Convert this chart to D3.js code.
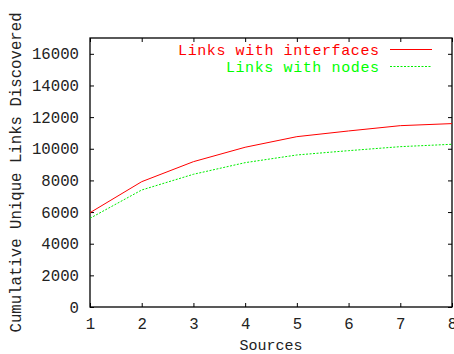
<!DOCTYPE html>
<html>
<head>
<meta charset="utf-8">
<script src="https://cdn.jsdelivr.net/npm/d3@7/dist/d3.min.js"></script>
<style>
  html, body { margin: 0; padding: 0; background: #fff; }
  svg { display: block; }
  text { font-family: "Liberation Mono", "Courier New", monospace; }
</style>
</head>
<body>
<script>
// Cumulative unique links discovered as sources are added
const sources = [1, 2, 3, 4, 5, 6, 7, 8];
const linksWithInterfaces = [5960, 7920, 9185, 10095, 10765, 11125, 11460, 11590];
const linksWithNodes = [5607, 7395, 8388, 9122, 9608, 9880, 10133, 10284];
const yTicks = [0, 2000, 4000, 6000, 8000, 10000, 12000, 14000, 16000];
const xTicks = [1, 2, 3, 4, 5, 6, 7, 8];
const seriesNames = ["Links with interfaces", "Links with nodes"];

const W = 454, H = 354;
const m = { left: 90, right: 2, top: 38, bottom: 47 };
const pw = W - m.left - m.right, ph = H - m.top - m.bottom;
const fontSize = 15.7;
const legendFontSize = 15;

const svg = d3.select("body").append("svg").attr("width", W).attr("height", H);

const x = d3.scaleLinear().domain([1, 8]).range([m.left, m.left + pw]);
const y = d3.scaleLinear().domain([0, 17000]).range([m.top + ph, m.top]);

const tickLen = 4;
const g = svg.append("g");

// Bottom axis with tick labels, ticks pointing inward
const xAxis = g.append("g").attr("transform", `translate(0,${m.top + ph})`)
  .call(d3.axisBottom(x).tickValues(xTicks).tickFormat(d3.format("d")).tickSizeInner(-tickLen).tickSizeOuter(0).tickPadding(11));
// Top axis: mirrored ticks only
const xAxisTop = g.append("g").attr("transform", `translate(0,${m.top})`)
  .call(d3.axisTop(x).tickValues(xTicks).tickFormat("").tickSizeInner(-tickLen).tickSizeOuter(0));
// Left axis with tick labels
const yAxis = g.append("g").attr("transform", `translate(${m.left},0)`)
  .call(d3.axisLeft(y).tickValues(yTicks).tickFormat(d3.format("d")).tickSizeInner(-tickLen).tickSizeOuter(0).tickPadding(11));
// Right axis: mirrored ticks only
const yAxisRight = g.append("g").attr("transform", `translate(${m.left + pw},0)`)
  .call(d3.axisRight(y).tickValues(yTicks).tickFormat("").tickSizeInner(-tickLen).tickSizeOuter(0));

[xAxis, xAxisTop, yAxis, yAxisRight].forEach(a => {
  a.select(".domain").remove();
  a.selectAll("line").attr("stroke", "#000").attr("stroke-width", 1);
  a.selectAll("text").attr("font-size", fontSize).attr("fill", "#222")
    .style("font-family", "'Liberation Mono', 'Courier New', monospace");
});

// Frame
g.append("rect")
  .attr("x", m.left).attr("y", m.top).attr("width", pw).attr("height", ph)
  .attr("fill", "none").attr("stroke", "#000").attr("stroke-width", 1.3);

// Axis titles
svg.append("text")
  .attr("x", m.left + pw / 2).attr("y", 350)
  .attr("text-anchor", "middle").attr("font-size", 15).attr("fill", "#222")
  .text("Sources");
svg.append("text")
  .attr("transform", `translate(21,${m.top + ph / 2}) rotate(-90)`)
  .attr("text-anchor", "middle").attr("font-size", fontSize).attr("fill", "#222")
  .text("Cumulative Unique Links Discovered");

// Series lines
const line = d3.line().x((d, i) => x(sources[i])).y(d => y(d));
const series = [
  { name: seriesNames[0], values: linksWithInterfaces, color: "#ff0000", text: "#ff0000", dash: null },
  { name: seriesNames[1], values: linksWithNodes, color: "#00ee00", text: "#00ff00", dash: "2,1.5" }
];
series.forEach(s => {
  svg.append("path").datum(s.values)
    .attr("d", line).attr("fill", "none")
    .attr("stroke", s.color).attr("stroke-width", 1)
    .attr("stroke-dasharray", s.dash);
});

// Legend
const legX = 379, lineX0 = 390, lineX1 = 432;
const legY = [49.5, 66.5];
series.forEach((s, i) => {
  svg.append("text")
    .attr("x", legX).attr("y", legY[i]).attr("dy", "0.35em")
    .attr("text-anchor", "end").attr("font-size", legendFontSize)
    .attr("textLength", s.name.length * 9.57).attr("lengthAdjust", "spacing")
    .attr("fill", s.text)
    .text(s.name);
  svg.append("line")
    .attr("x1", lineX0).attr("x2", lineX1).attr("y1", legY[i]).attr("y2", legY[i])
    .attr("stroke", s.color).attr("stroke-width", 1)
    .attr("stroke-dasharray", s.dash);
});
</script>
</body>
</html>
